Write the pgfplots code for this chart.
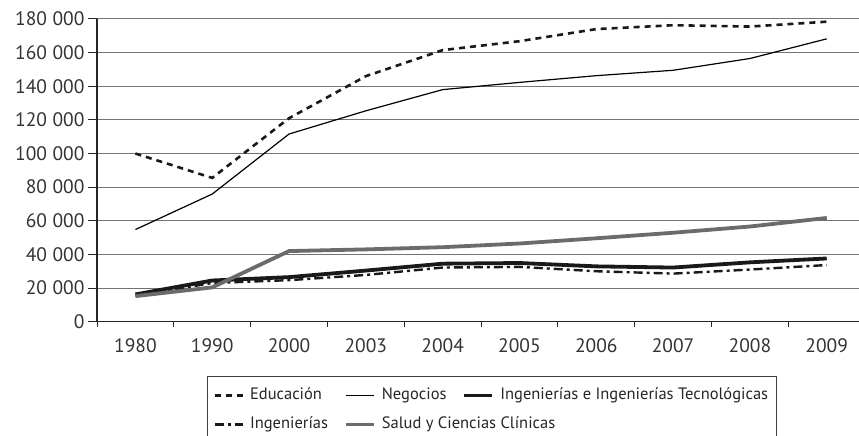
\documentclass[border=0pt]{standalone}
\usepackage{fontspec}
\setmainfont{PT Sans}
\usepackage{pgfplots}
\pgfplotsset{compat=1.18}

\pgfplotsset{
  legline/.style={legend image code/.code={\draw[##1] (0pt,0pt) -- (28pt,0pt);}}
}

\begin{document}
\begin{tikzpicture}
\begin{axis}[
  at={(97pt,114.3pt)}, anchor=south west,
  scale only axis, width=762pt, height=302.7pt,
  xmin=-0.5, xmax=9.42, ymin=0, ymax=180000,
  axis x line*=bottom, axis y line*=left,
  axis line style={black!85, line width=1.1pt, -},
  xtick={0,...,9},
  xticklabels={1980,1990,2000,2003,2004,2005,2006,2007,2008,2009},
  minor xtick={-0.5,0.5,...,8.5},
  major x tick style={draw=none},
  minor x tick style={black!85, line width=1pt},
  minor tick length=5pt,
  ytick={0,20000,...,180000},
  y tick style={black!85, line width=1pt},
  major tick length=9pt,
  tick align=outside,
  scaled y ticks=false,
  yticklabel style={/pgf/number format/.cd, fixed, 1000 sep={\hspace{0.28em}}, assume math mode=true},
  xticklabel style={yshift=-4pt},
  ymajorgrids,
  grid style={black!55, line width=1pt},
  tick label style={font=\fontsize{19.5}{24}\selectfont, text=black!80},
  legend columns=3,
  legend cell align=left,
  legend style={at={(0.1444,-0.1794)}, anchor=north west,
    draw=black!75, line width=0.8pt,
    font=\fontsize{16.5}{19}\selectfont, text=black!85,
    inner xsep=6pt, inner ysep=9pt,
    nodes={inner sep=2pt, text height=12pt, text depth=4pt},
    row sep=9pt,
    /tikz/every odd column/.append style={column sep=4pt},
    /tikz/every even column/.append style={column sep=14pt},
  },
]
\addplot[legline, black!90, line width=2.6pt, dash pattern=on 6pt off 5pt] coordinates {
  (0,100000) (1,85500) (2,121000) (3,146000) (4,161500)
  (5,166800) (6,174000) (7,176300) (8,175500) (9,178400)};
\addlegendentry{Educación}
\addplot[legline, black, line width=1.2pt] coordinates {
  (0,54800) (1,75900) (2,111600) (3,125400) (4,138000)
  (5,142300) (6,146300) (7,149500) (8,156500) (9,168200)};
\addlegendentry{Negocios}
\addplot[legline, black!90, line width=3.8pt] coordinates {
  (0,16200) (1,24500) (2,26500) (3,30400) (4,34500)
  (5,34900) (6,32900) (7,32200) (8,35300) (9,37600)};
\addlegendentry{Ingenierías e Ingenierías Tecnológicas}
\addplot[legline, black!90, line width=2.4pt, dash pattern=on 9pt off 4pt on 3pt off 4pt] coordinates {
  (0,15500) (1,23000) (2,24700) (3,27800) (4,32200)
  (5,32600) (6,30000) (7,28600) (8,31000) (9,33700)};
\addlegendentry{Ingenierías}
\addplot[legline, black!58, line width=3.8pt] coordinates {
  (0,15200) (1,20400) (2,42000) (3,43000) (4,44300)
  (5,46500) (6,49600) (7,52900) (8,56600) (9,61700)};
\addlegendentry{\rlap{Salud y Ciencias Clínicas}}
\end{axis}
\pgfresetboundingbox
\path[use as bounding box] (0pt,0pt) rectangle (859pt,436pt);
\end{tikzpicture}
\end{document}
